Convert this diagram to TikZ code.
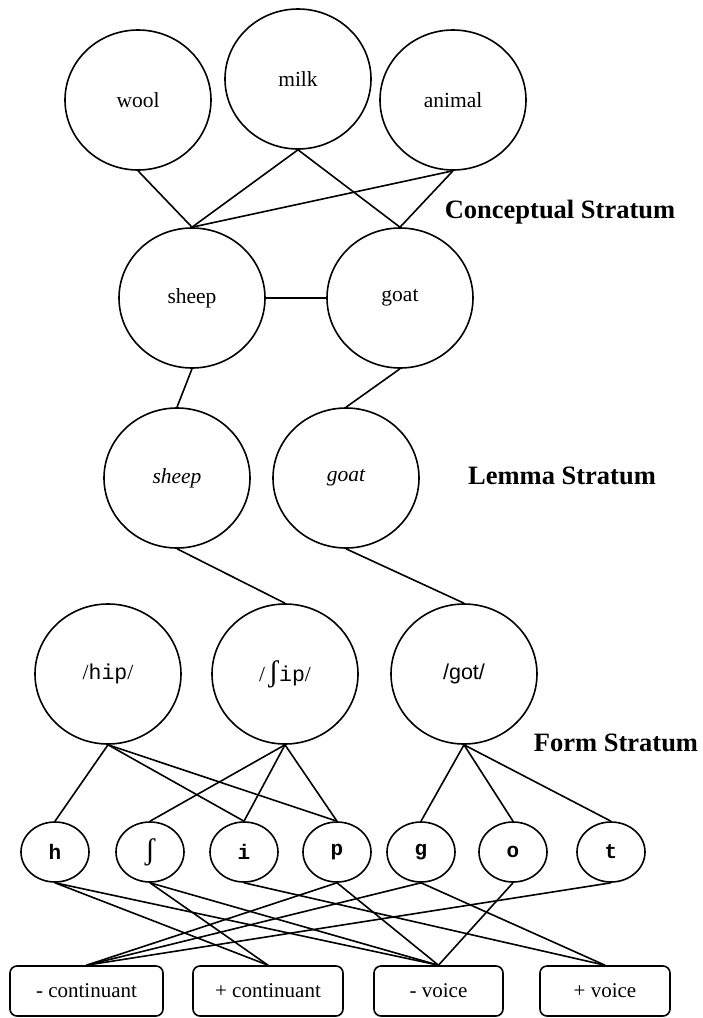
\documentclass[tikz,border=0pt]{standalone}
\usepackage{fontspec}
\setmainfont{Liberation Serif}
\setmonofont{Liberation Mono}
\setsansfont{Liberation Sans}
\usetikzlibrary{shapes.geometric}
\begin{document}
\begin{tikzpicture}[x=1pt,y=-1pt,
  big/.style={draw,ellipse,line width=1.6pt,minimum width=146pt,minimum height=140pt,inner sep=0pt,font=\fontsize{21.5}{24}\selectfont},
  ph/.style={draw,ellipse,line width=1.6pt,minimum width=68pt,minimum height=60pt,inner sep=0pt,font=\ttfamily\bfseries\fontsize{21}{22}\selectfont},
  feat/.style={draw,rounded corners=7pt,line width=1.6pt,minimum height=50pt,inner sep=0pt,font=\fontsize{21}{24}\selectfont},
  stratum/.style={font=\bfseries\fontsize{26.5}{30}\selectfont},
  link/.style={line width=1.6pt}]
\useasboundingbox (0,0) rectangle (703,1018);
% conceptual
\node[big] (wool) at (138,100) {wool};
\node[big] (milk) at (298,79) {milk};
\node[big] (animal) at (453,100) {animal};
\node[big] (sheepC) at (192,298) {sheep};
\node[big] (goatC) at (400,298) {goat};
\node[stratum] (cs) at (560,212) {Conceptual Stratum};
% lemma
\node[big] (sheepL) at (177,478) {\itshape sheep};
\node[big] (goatL) at (346,478) {\itshape goat};
\node[stratum] (ls) at (562,476) {Lemma Stratum};
% form
\node[big] (hip) at (108,674) {/\texttt{hip}/};
\node[big] (ship) at (285,674) {/\,{\fontsize{30}{30}\selectfont ʃ}\texttt{ip}/};
\node[big] (got) at (464,674) {\sffamily /got/};
\node[stratum] (fs) at (616,743) {Form Stratum};
% phonemes
\node[ph] (h) at (55,852) {h};
\node[ph] (S) at (150,852) {\rmfamily\mdseries\fontsize{30}{30}\selectfont ʃ};
\node[ph] (i) at (244,852) {i};
\node[ph] (p) at (337,852) {p};
\node[ph] (g) at (421,852) {g};
\node[ph] (o) at (513,852) {o};
\node[ph] (t) at (611,852) {t};
% features
\node[feat,minimum width=153pt] (mc) at (86.5,991) {- continuant};
\node[feat,minimum width=150pt] (pc) at (268,991) {+ continuant};
\node[feat,minimum width=129pt] (mv) at (438.5,991) {- voice};
\node[feat,minimum width=130pt] (pv) at (605,991) {+ voice};
% connectors
\draw[link] (wool.south) -- (sheepC.north);
\draw[link] (milk.south) -- (sheepC.north);
\draw[link] (milk.south) -- (goatC.north);
\draw[link] (animal.south) -- (sheepC.north);
\draw[link] (animal.south) -- (goatC.north);
\draw[link] (sheepC.east) -- (goatC.west);
\draw[link] (sheepC.south) -- (sheepL.north);
\draw[link] (goatC.south) -- (goatL.north);
\draw[link] (sheepL.south) -- (ship.north);
\draw[link] (goatL.south) -- (got.north);
\foreach \a in {h,i,p} \draw[link] (hip.south) -- (\a.north);
\foreach \a in {S,i,p} \draw[link] (ship.south) -- (\a.north);
\foreach \a in {g,o,t} \draw[link] (got.south) -- (\a.north);
\draw[link] (h.south) -- (pc.north);
\draw[link] (h.south) -- (mv.north);
\draw[link] (S.south) -- (pc.north);
\draw[link] (S.south) -- (mv.north);
\draw[link] (i.south) -- (pv.north);
\draw[link] (p.south) -- (mc.north);
\draw[link] (p.south) -- (mv.north);
\draw[link] (g.south) -- (mc.north);
\draw[link] (g.south) -- (pv.north);
\draw[link] (o.south) -- (mv.north);
\draw[link] (t.south) -- (mc.north);
\end{tikzpicture}
\end{document}
